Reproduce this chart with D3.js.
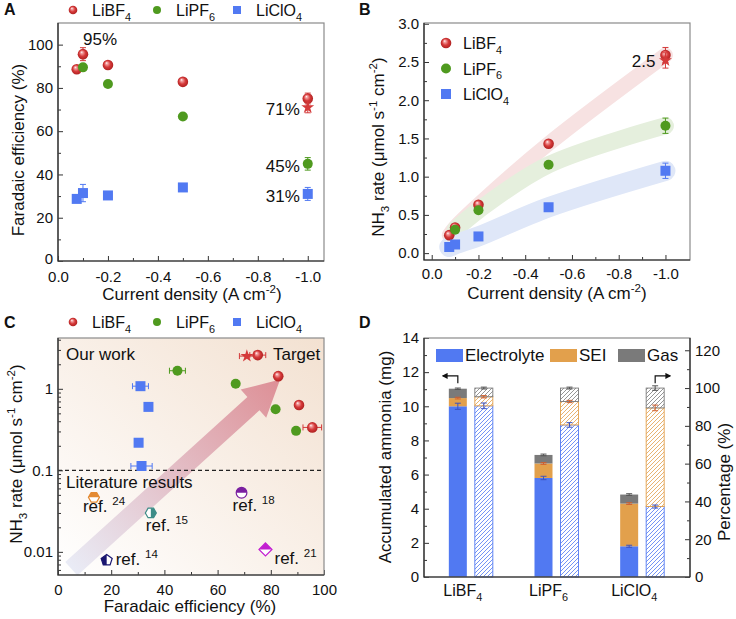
<!DOCTYPE html>
<html>
<head>
<meta charset="utf-8">
<script src="https://cdn.jsdelivr.net/npm/d3@7"></script>
<style>
body { margin: 0; background: #fff; }
svg { font-family: "Liberation Sans", Arial, sans-serif; }
</style>
</head>
<body>
<svg id="fig" width="736" height="619"></svg>
<script>
// ---- data ----

var salts = ['LiBF_{4}', 'LiPF_{6}', 'LiClO_{4}'];

// current density (A cm-2) for each salt
var curBF4 = [-0.075, -0.1, -0.2, -0.5, -1.0];
var curPF6 = [-0.1, -0.2, -0.5, -1.0];
var curClO4 = [-0.075, -0.1, -0.2, -0.5, -1.0];

// Faradaic efficiency (%)
var feBF4 = [88.6, 95.6, 90.6, 82.8, 75.1];
var feBF4Err = [0, 3, 0, 0, 2.5];
var fePF6 = [89.5, 81.8, 66.8, 44.9];
var fePF6Err = [0, 0, 0, 2.9];
var feClO4 = [28.7, 31.4, 30.3, 34.0, 31.0];
var feClO4Err = [0, 4, 0, 0, 3];

// NH3 rate (umol s-1 cm-2)
var rateBF4 = [0.235, 0.336, 0.632, 1.43, 2.59];
var rateBF4Err = [0, 0, 0, 0, 0.1];
var ratePF6 = [0.305, 0.56, 1.156, 1.666];
var ratePF6Err = [0, 0, 0, 0.1];
var rateClO4 = [0.08, 0.113, 0.218, 0.60, 1.077];
var rateClO4Err = [0, 0, 0, 0, 0.1];

// horizontal (FE) error bars shown in panel C
var feXErrBF4 = [0, 3.5, 0, 0, 3];
var feXErrPF6 = [0, 0, 0, 3];
var feXErrClO4 = [0, 4, 0, 0, 3];

// target (star) point
var starCur = -1.0, starFE = 71, starFEErr = 2.5, starRate = 2.52, starRateErr = 0.1, starFEXErr = 2.8;

// literature results (panel C)
var litRefs = ['24', '15', '18', '21', '14'];
var litFE = [13.5, 34.9, 69, 78, 18.3];
var litRate = [0.0466, 0.030, 0.053, 0.0107, 0.0079];

// panel D: accumulated ammonia (mg) and share (%)
var massE = [10.0, 5.8, 1.8];
var massSEI = [0.48, 0.85, 2.5];
var massGas = [0.55, 0.5, 0.53];
var massErrE = [0.18, 0.1, 0.06];
var massErrSEI = [0.05, 0.05, 0.05];
var massErrGas = [0.04, 0.05, 0.05];
var pctE = [90.6, 80.5, 37.3];
var pctSEI = [4.8, 12.4, 52.2];
var pctGas = [4.6, 7.1, 10.5];
var pctErrE = [1.5, 1.2, 0.8];
var pctErrSEI = [0.6, 0.6, 1.5];
var pctErrGas = [0.5, 0.5, 1.2];

// ---- styles ----
var RED = '#d43a3a', GREEN = '#4f9a1f', BLUE = '#5179f2';
var ORANGE = '#e2a04c', GRAY = '#7a7a7a';

var series = [
	{ cur: curBF4, fe: feBF4, feErr: feBF4Err, rate: rateBF4, rateErr: rateBF4Err, xErr: feXErrBF4,
		mark: 'ball', color: RED, band: '#f7e2e2', bandW: 15 },
	{ cur: curPF6, fe: fePF6, feErr: fePF6Err, rate: ratePF6, rateErr: ratePF6Err, xErr: feXErrPF6,
		mark: 'dot', color: GREEN, band: '#e5efdd', bandW: 17 },
	{ cur: curClO4, fe: feClO4, feErr: feClO4Err, rate: rateClO4, rateErr: rateClO4Err, xErr: feXErrClO4,
		mark: 'square', color: BLUE, band: '#dfe7f8', bandW: 20 }
];

var litStyle = [
	{ color: '#e48a32', shape: 'hex', half: 'top', dx: -11, dy: 15 },
	{ color: '#3d8c87', shape: 'hex', half: 'right', dx: -5, dy: 18 },
	{ color: '#7a1fa0', shape: 'circle', half: 'top', dx: -9, dy: 18 },
	{ color: '#c21fd0', shape: 'diamond', half: 'top', dx: 9, dy: 15 },
	{ color: '#1a1670', shape: 'pent', half: 'left', dx: 9, dy: 5 }
];

var svg = d3.select('#fig');
var defs = svg.append('defs');

// shiny red sphere
var ball = defs.append('radialGradient').attr('id', 'ball')
	.attr('cx', '50%').attr('cy', '50%').attr('r', '55%').attr('fx', '36%').attr('fy', '30%');
[['0%', '#ffffff'], ['18%', '#f3a4a4'], ['55%', '#d63a3a'], ['100%', '#a81c1c']].forEach(function (s) {
	ball.append('stop').attr('offset', s[0]).attr('stop-color', s[1]);
});

// panel C background
var bgC = defs.append('linearGradient').attr('id', 'bgC')
	.attr('x1', 0).attr('y1', 1).attr('x2', 1).attr('y2', 0);
bgC.append('stop').attr('offset', '0%').attr('stop-color', '#ffffff');
bgC.append('stop').attr('offset', '100%').attr('stop-color', '#f3e1d1');

// hatch patterns for panel D
function hatch(id, color) {
	var p = defs.append('pattern').attr('id', id)
		.attr('patternUnits', 'userSpaceOnUse').attr('width', 4).attr('height', 4);
	p.append('rect').attr('width', 4).attr('height', 4).attr('fill', '#fff');
	p.append('path').attr('d', 'M-1,1L1,-1M0,4L4,0M3,5L5,3')
		.attr('stroke', color).attr('stroke-width', 0.8);
}
hatch('hBlue', BLUE);
hatch('hOrange', ORANGE);
hatch('hGray', GRAY);

// half-fill clip paths (local marker coordinates)
[['top', -8, -8, 16, 8], ['left', -8, -8, 8, 16], ['right', 0, -8, 8, 16]].forEach(function (c) {
	defs.append('clipPath').attr('id', 'clip-' + c[0])
		.append('rect').attr('x', c[1]).attr('y', c[2]).attr('width', c[3]).attr('height', c[4]);
});

// ---- helpers ----

// text with _{sub} and ^{sup}
function rich(text, str, size) {
	var shift = 0;
	str.split(/([_^]\{[^}]*\})/).filter(Boolean).forEach(function (p) {
		var t = text.append('tspan');
		if (p[0] === '_' || p[0] === '^') {
			var d = p[0] === '_' ? size * 0.3 : -size * 0.42;
			t.attr('dy', d - shift).style('font-size', (size * 0.68) + 'px').text(p.slice(2, -1));
			shift = d;
		} else {
			t.attr('dy', -shift).text(p);
			shift = 0;
		}
	});
	return text;
}

function label(x, y, str, size, anchor, rot) {
	var t = svg.append('text')
		.attr('transform', 'translate(' + x + ',' + y + ')' + (rot ? ' rotate(' + rot + ')' : ''))
		.attr('text-anchor', anchor || 'start')
		.style('font-size', size + 'px')
		.attr('fill', '#111');
	return rich(t, str, size);
}

function frame(x0, y0, x1, y1) {
	svg.append('rect').attr('x', x0).attr('y', y0).attr('width', x1 - x0).attr('height', y1 - y0)
		.attr('fill', 'none').attr('stroke', '#8a8a8a').attr('stroke-width', 1.2);
	svg.append('path').attr('d', 'M' + x0 + ',' + y0 + 'V' + y1 + 'H' + x1)
		.attr('fill', 'none').attr('stroke', '#222').attr('stroke-width', 1.2);
}

function axis(tx, ty, axisFn, scale, major, minor, fmt, pad) {
	var g = svg.append('g').attr('transform', 'translate(' + tx + ',' + ty + ')');
	var a = g.append('g').call(axisFn(scale).tickValues(major).tickFormat(fmt).tickSize(-5).tickPadding(pad));
	a.attr('font-size', 15).attr('font-family', null);
	a.select('.domain').remove();
	a.selectAll('line').attr('stroke', '#333');
	a.selectAll('text').attr('fill', '#111');
	if (minor) {
		var m = g.append('g').call(axisFn(scale).tickValues(minor).tickFormat('').tickSize(-3));
		m.select('.domain').remove();
		m.selectAll('line').attr('stroke', '#333');
	}
	return a;
}

function marker(x, y, type, r) {
	r = r || 5;
	if (type === 'ball') {
		svg.append('circle').attr('cx', x).attr('cy', y).attr('r', r + 0.3).attr('fill', 'url(#ball)');
	} else if (type === 'dot') {
		svg.append('circle').attr('cx', x).attr('cy', y).attr('r', r).attr('fill', GREEN);
	} else if (type === 'square') {
		svg.append('rect').attr('x', x - r).attr('y', y - r).attr('width', 2 * r).attr('height', 2 * r).attr('fill', BLUE);
	}
}

function star(x, y) {
	svg.append('path').attr('transform', 'translate(' + x + ',' + y + ')')
		.attr('d', d3.symbol(d3.symbolStar).size(52)()).attr('fill', RED);
}

function vErr(x, y0, y1, color, cap) {
	cap = cap || 3;
	svg.append('path').attr('d', 'M' + x + ',' + y0 + 'V' + y1 + 'M' + (x - cap) + ',' + y0 + 'H' + (x + cap) +
		'M' + (x - cap) + ',' + y1 + 'H' + (x + cap))
		.attr('stroke', color).attr('stroke-width', 1).attr('fill', 'none');
}

function hErr(y, x0, x1, color) {
	svg.append('path').attr('d', 'M' + x0 + ',' + y + 'H' + x1 + 'M' + x0 + ',' + (y - 3) + 'V' + (y + 3) +
		'M' + x1 + ',' + (y - 3) + 'V' + (y + 3))
		.attr('stroke', color).attr('stroke-width', 1).attr('fill', 'none');
}

function topLegend(y) {
	var xs = [73, 157, 237];
	series.forEach(function (s, i) {
		marker(xs[i], y, s.mark, 4);
		label(xs[i] + 19, y + 6, salts[i], 16);
	});
}

var fmt1 = function (d) { return d.toFixed(1); };
var curTicks = [0, -0.2, -0.4, -0.6, -0.8, -1.0];
var curMinor = [-0.1, -0.3, -0.5, -0.7, -0.9];

// ---- panel A : FE vs current ----
var xA = d3.scaleLinear().domain([0, -1.065]).range([58, 324]);
var yA = d3.scaleLinear().domain([0, 110]).range([261, 23]);

axis(0, 261, d3.axisBottom, xA, curTicks, curMinor, fmt1, 10);
var ayA = axis(58, 0, d3.axisLeft, yA, [0, 20, 40, 60, 80, 100], [10, 30, 50, 70, 90], d3.format('d'), 5);
ayA.selectAll('text').filter(function (d) { return d === 0; }).attr('dy', '0.15em');
frame(58, 23, 324, 261);

series.forEach(function (s) {
	s.cur.forEach(function (c, i) {
		if (s.feErr[i]) vErr(xA(c), yA(s.fe[i] - s.feErr[i]), yA(s.fe[i] + s.feErr[i]), s.color);
		marker(xA(c), yA(s.fe[i]), s.mark);
	});
});
vErr(xA(starCur), yA(starFE - starFEErr), yA(starFE + starFEErr), RED);
star(xA(starCur), yA(starFE));

label(xA(-0.1), yA(feBF4[1]) - 9, '95%', 17);
label(xA(starCur) - 8, yA(starFE) + 8, '71%', 17, 'end');
label(xA(-1.0) - 8, yA(fePF6[3]) + 8, '45%', 17, 'end');
label(xA(-1.0) - 8, yA(feClO4[4]) + 8, '31%', 17, 'end');

topLegend(10);
label(24, 150, 'Faradaic efficiency (%)', 17, 'middle', -90);
label(192, 300, 'Current density (A cm^{-2})', 17, 'middle');

// ---- panel B : rate vs current ----
var xB = d3.scaleLinear().domain([0.033, -1.105]).range([424, 690]);
var yB = d3.scaleLinear().domain([-0.09, 3.01]).range([260, 23]);

var bandLine = d3.line().curve(d3.curveCatmullRom.alpha(0.5));
series.forEach(function (s) {
	var pts = s.cur.map(function (c, i) { return [xB(c), yB(s.rate[i])]; });
	svg.append('path').attr('d', bandLine(pts)).attr('fill', 'none')
		.attr('stroke', s.band).attr('stroke-width', s.bandW).attr('stroke-linecap', 'round');
});

axis(0, 260, d3.axisBottom, xB, curTicks, curMinor, fmt1, 8);
axis(424, 0, d3.axisLeft, yB, [0, 0.5, 1, 1.5, 2, 2.5, 3], [0.25, 0.75, 1.25, 1.75, 2.25, 2.75], fmt1, 5);
frame(424, 23, 690, 260);

series.forEach(function (s) {
	s.cur.forEach(function (c, i) {
		if (s.rateErr[i]) vErr(xB(c), yB(s.rate[i] - s.rateErr[i]), yB(s.rate[i] + s.rateErr[i]), s.color);
		marker(xB(c), yB(s.rate[i]), s.mark);
	});
});
vErr(xB(starCur), yB(starRate - starRateErr), yB(starRate + starRateErr), RED);
star(xB(starCur), yB(starRate));
label(xB(starCur) - 10, yB(starRate) + 7, '2.5', 17, 'end');

series.forEach(function (s, i) {
	var ly = 43 + i * 25.5;
	marker(446, ly, s.mark);
	label(463, ly + 6, salts[i], 16);
});

label(384, 147, 'NH_{3} rate (μmol s^{-1} cm^{-2})', 17, 'middle', -90);
label(557, 299, 'Current density (A cm^{-2})', 17, 'middle');

// ---- panel C : rate vs FE (log) ----
var xC = d3.scaleLinear().domain([0, 100]).range([58, 324]);
var yC = d3.scaleLog().domain([0.0052, 4.2]).range([575, 338]);

svg.append('rect').attr('x', 58).attr('y', 338).attr('width', 266).attr('height', 237).attr('fill', 'url(#bgC)');

// big arrow from literature towards our work
var aFrom = [xC(5), yC(0.0062)], aTo = [xC(83.5), yC(1.3)];
var aLen = Math.hypot(aTo[0] - aFrom[0], aTo[1] - aFrom[1]);
var aAng = Math.atan2(aTo[1] - aFrom[1], aTo[0] - aFrom[0]) * 180 / Math.PI;
var aGrad = defs.append('linearGradient').attr('id', 'arrowGrad').attr('gradientUnits', 'userSpaceOnUse')
	.attr('x1', 0).attr('y1', 0).attr('x2', aLen).attr('y2', 0);
aGrad.append('stop').attr('offset', '0%').attr('stop-color', '#e4e7f4').attr('stop-opacity', 0.8);
aGrad.append('stop').attr('offset', '100%').attr('stop-color', '#d9808a').attr('stop-opacity', 0.85);
svg.append('path')
	.attr('transform', 'translate(' + aFrom[0] + ',' + aFrom[1] + ') rotate(' + aAng + ')')
	.attr('d', 'M0,-9H' + (aLen - 36) + 'V-19L' + aLen + ',0L' + (aLen - 36) + ',19V9H0Z')
	.attr('fill', 'url(#arrowGrad)');

svg.append('line').attr('x1', 58).attr('x2', 324).attr('y1', yC(0.1)).attr('y2', yC(0.1))
	.attr('stroke', '#222').attr('stroke-width', 1.2).attr('stroke-dasharray', '4,3');

axis(0, 575, d3.axisBottom, xC, [0, 20, 40, 60, 80, 100], [10, 30, 50, 70, 90], d3.format('d'), 9);
var logMinor = [0.006, 0.007, 0.008, 0.009, 0.02, 0.03, 0.04, 0.05, 0.06, 0.07, 0.08, 0.09,
	0.2, 0.3, 0.4, 0.5, 0.6, 0.7, 0.8, 0.9, 2, 3, 4];
axis(58, 0, d3.axisLeft, yC, [0.01, 0.1, 1], logMinor, function (d) { return String(+d.toPrecision(1)); }, 5);
frame(58, 338, 324, 575);

// literature markers
var shapes = {
	hex: d3.line()(d3.range(6).map(function (k) { var a = Math.PI / 3 * k; return [5.5 * Math.cos(a), 5.5 * Math.sin(a)]; })) + 'Z',
	pent: d3.line()(d3.range(5).map(function (k) { var a = -Math.PI / 2 + 2 * Math.PI / 5 * k; return [5.8 * Math.cos(a), 5.8 * Math.sin(a)]; })) + 'Z',
	circle: d3.symbol(d3.symbolCircle).size(90)(),
	diamond: 'M0,-6.5L6.5,0L0,6.5L-6.5,0Z'
};
litRefs.forEach(function (ref, i) {
	var st = litStyle[i];
	var g = svg.append('g').attr('transform', 'translate(' + xC(litFE[i]) + ',' + yC(litRate[i]) + ')');
	g.append('path').attr('d', shapes[st.shape]).attr('fill', '#fff').attr('stroke', st.color).attr('stroke-width', 1.2);
	g.append('path').attr('d', shapes[st.shape]).attr('fill', st.color).attr('clip-path', 'url(#clip-' + st.half + ')');
	label(xC(litFE[i]) + st.dx, yC(litRate[i]) + st.dy, 'ref. ^{' + ref + '}', 17);
});

label(66, 360, 'Our work', 17);
label(66, 488, 'Literature results', 17);
label(273, 360, 'Target', 17);

series.forEach(function (s) {
	s.cur.forEach(function (c, i) {
		if (c > -0.1) return;
		var x = xC(s.fe[i]), y = yC(s.rate[i]);
		if (s.xErr[i]) hErr(y, xC(s.fe[i] - s.xErr[i]), xC(s.fe[i] + s.xErr[i]), s.color);
		marker(x, y, s.mark);
	});
});
hErr(yC(starRate), xC(starFE - starFEXErr), xC(starFE + starFEXErr), RED);
star(xC(starFE), yC(starRate));

topLegend(322);
label(22, 454, 'NH_{3} rate (μmol s^{-1} cm^{-2})', 17, 'middle', -90);
label(190, 612, 'Faradaic efficiency (%)', 17, 'middle');

// ---- panel D : accumulated ammonia ----
var xD = d3.scaleBand().domain(salts).range([428, 685]);
var yD = d3.scaleLinear().domain([0, 14]).range([577, 338]);
var yDr = d3.scaleLinear().domain([0, 126.5]).range([577, 338]);

var segs = [
	{ mass: massE, mErr: massErrE, pct: pctE, pErr: pctErrE, color: BLUE, hatch: 'url(#hBlue)', err: '#3c52c0' },
	{ mass: massSEI, mErr: massErrSEI, pct: pctSEI, pErr: pctErrSEI, color: ORANGE, hatch: 'url(#hOrange)', err: '#d0602e' },
	{ mass: massGas, mErr: massErrGas, pct: pctGas, pErr: pctErrGas, color: GRAY, hatch: 'url(#hGray)', err: '#555' }
];

salts.forEach(function (c, i) {
	var cx = xD(c) + xD.bandwidth() / 2;
	var m0 = 0, p0 = 0;
	segs.forEach(function (s) {
		var m1 = m0 + s.mass[i], p1 = p0 + s.pct[i];
		svg.append('rect').attr('x', cx - 22).attr('width', 18)
			.attr('y', yD(m1)).attr('height', yD(m0) - yD(m1)).attr('fill', s.color);
		svg.append('rect').attr('x', cx + 4).attr('width', 18)
			.attr('y', yDr(p1)).attr('height', yDr(p0) - yDr(p1))
			.attr('fill', s.hatch).attr('stroke', s.color).attr('stroke-width', 0.9);
		m0 = m1; p0 = p1;
	});
	m0 = 0; p0 = 0;
	segs.forEach(function (s) {
		m0 += s.mass[i]; p0 += s.pct[i];
		vErr(cx - 13, yD(m0 - s.mErr[i]), yD(m0 + s.mErr[i]), s.err);
		vErr(cx + 13, yDr(p0 - s.pErr[i]), yDr(p0 + s.pErr[i]), s.err);
	});
	label(cx - 8, 596, c, 16, 'middle');
});

axis(424, 0, d3.axisLeft, yD, d3.range(0, 15, 2), d3.range(1, 14, 2), d3.format('d'), 5);
axis(690, 0, d3.axisRight, yDr, d3.range(0, 121, 20), d3.range(10, 121, 20), d3.format('d'), 5);
frame(424, 338, 690, 577);
svg.append('line').attr('x1', 690).attr('x2', 690).attr('y1', 338).attr('y2', 577)
	.attr('stroke', '#222').attr('stroke-width', 1.2);

// legend
[['Electrolyte', BLUE, 436], ['SEI', ORANGE, 550], ['Gas', GRAY, 618]].forEach(function (l) {
	svg.append('rect').attr('x', l[2]).attr('y', 349).attr('width', 27).attr('height', 13).attr('fill', l[1]);
	label(l[2] + 29, 361, l[0], 17);
});

// axis pointers
defs.append('marker').attr('id', 'tip').attr('viewBox', '0 0 10 10').attr('refX', 8).attr('refY', 5)
	.attr('markerWidth', 5).attr('markerHeight', 5).attr('orient', 'auto')
	.append('path').attr('d', 'M0,0L10,5L0,10Z').attr('fill', '#111');
var cL = xD(salts[0]) + xD.bandwidth() / 2 - 13, cR = xD(salts[2]) + xD.bandwidth() / 2 + 13;
svg.append('path').attr('d', 'M' + cL + ',' + yD(11.35) + 'V' + yD(11.78) + 'H' + (cL - 15))
	.attr('fill', 'none').attr('stroke', '#111').attr('stroke-width', 1.2).attr('marker-end', 'url(#tip)');
svg.append('path').attr('d', 'M' + cR + ',' + yD(11.35) + 'V' + yD(11.78) + 'H' + (cR + 15))
	.attr('fill', 'none').attr('stroke', '#111').attr('stroke-width', 1.2).attr('marker-end', 'url(#tip)');

label(391, 457, 'Accumulated ammonia (mg)', 17, 'middle', -90);
label(730, 482, 'Percentage (%)', 17, 'middle', -90);

// panel letters
[['A', 4, 15], ['B', 359, 15], ['C', 4, 328], ['D', 359, 328]].forEach(function (p) {
	svg.append('text').attr('x', p[1]).attr('y', p[2]).text(p[0])
		.style('font-size', '16px').style('font-weight', 'bold').attr('fill', '#111');
});
</script>
</body>
</html>
